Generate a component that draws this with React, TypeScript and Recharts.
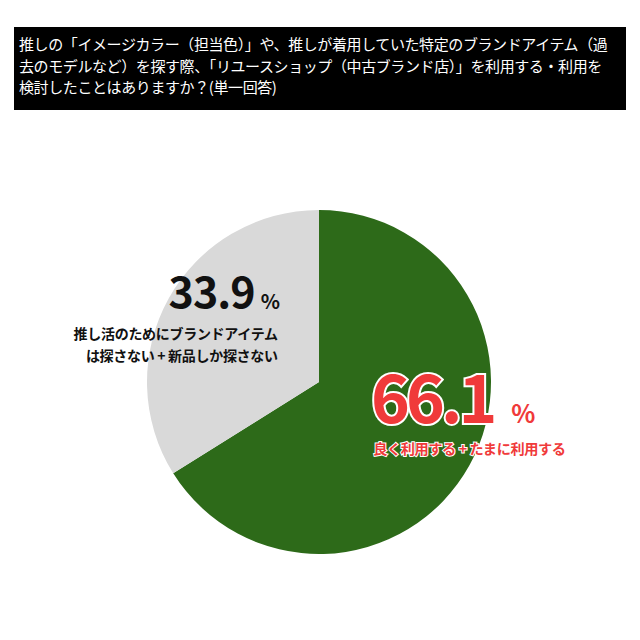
import React from "react";
import { PieChart, Pie, Cell } from "recharts";

const categories = ["良く利用する + たまに利用する", "推し活のためにブランドアイテムは探さない + 新品しか探さない"];
const values = [66.1, 33.9];
const colors = ["#2d6a19", "#d9d9d9"];
const labelLines = [["良く利用する + たまに利用する"], ["推し活のためにブランドアイテム", "は探さない + 新品しか探さない"]];
const title = [
  "推しの「イメージカラー（担当色）」や、推しが着用していた特定のブランドアイテム（過",
  "去のモデルなど）を探す際、「リユースショップ（中古ブランド店）」を利用する・利用を",
  "検討したことはありますか？(単一回答)",
];

const data = categories.map((name, i) => ({ name, value: values[i] }));
const JP = "'Noto Sans CJK JP', 'Noto Sans', sans-serif";

const RAD = Math.PI / 180;

const renderLabel = (props: any) => {
  const { cx, cy, midAngle, outerRadius, index, value } = props;
  if (index === 0) {
    const r = outerRadius * 0.78;
    const x = cx + r * Math.cos(-midAngle * RAD);
    const y = cy + r * Math.sin(-midAngle * RAD);
    return (
      <g>
        <text x={x + 57} y={y - 24} textAnchor="end" fontFamily={JP} fontWeight={700} fontSize={66}
          fill="#f03a3a" stroke="#ffffff" strokeWidth={4} paintOrder="stroke" letterSpacing={-4}>
          {value.toFixed(1)}
        </text>
        <text x={x + 75} y={y - 24} textAnchor="start" fontFamily={JP} fontWeight={700} fontSize={25}
          fill="#f03a3a" stroke="#ffffff" strokeWidth={3} paintOrder="stroke">%</text>
        <text x={x + 33} y={y + 7} textAnchor="middle" fontFamily={JP} fontWeight={700} fontSize={14.2}
          fill="#f03a3a" stroke="#ffffff" strokeWidth={2} paintOrder="stroke" letterSpacing={-0.4}>
          {labelLines[0][0]}
        </text>
      </g>
    );
  }
  const r = outerRadius * 0.62;
  const x = cx + r * Math.cos(-midAngle * RAD);
  const y = cy + r * Math.sin(-midAngle * RAD);
  return (
    <g>
      <text x={x + 29} y={y - 22} textAnchor="end" fontFamily={JP} fontWeight={700} fontSize={43}
        fill="#111111" letterSpacing={-1}>
        {value.toFixed(1)}
      </text>
      <text x={x + 35} y={y - 21} textAnchor="start" fontFamily={JP} fontWeight={700} fontSize={20}
        fill="#111111">%</text>
      <text x={x + 52} y={y + 9} textAnchor="end" fontFamily={JP} fontWeight={700} fontSize={14}
        fill="#111111" letterSpacing={-0.3}>
        {labelLines[1][0]}
      </text>
      <text x={x + 52} y={y + 31} textAnchor="end" fontFamily={JP} fontWeight={700} fontSize={14}
        fill="#111111" letterSpacing={-0.3}>
        {labelLines[1][1]}
      </text>
    </g>
  );
};

export default function App() {
  return (
    <div style={{ position: "absolute", left: 0, top: 0, width: 640, height: 640, background: "#ffffff" }}>
      <div
        style={{
          position: "absolute",
          left: 14,
          top: 27,
          width: 612,
          height: 83,
          background: "#000000",
          color: "#ffffff",
          fontFamily: JP,
          fontSize: 15,
          lineHeight: "21.5px",
          padding: "6px 0 0 5px",
          boxSizing: "border-box",
          letterSpacing: -0.4,
          whiteSpace: "nowrap",
        }}
      >
        {title.map((t, i) => (
          <div key={i}>{t}</div>
        ))}
      </div>
      <div style={{ position: "absolute", left: 0, top: 0 }}>
        <PieChart width={640} height={640} margin={{ top: 0, right: 0, bottom: 0, left: 0 }}>
          <Pie
            data={data}
            dataKey="value"
            nameKey="name"
            cx={319}
            cy={382}
            outerRadius={172}
            startAngle={90}
            endAngle={-270}
            stroke="none"
            label={renderLabel}
            labelLine={false}
            isAnimationActive={false}
          >
            {data.map((d, i) => (
              <Cell key={d.name} fill={colors[i]} />
            ))}
          </Pie>
        </PieChart>
      </div>
    </div>
  );
}
